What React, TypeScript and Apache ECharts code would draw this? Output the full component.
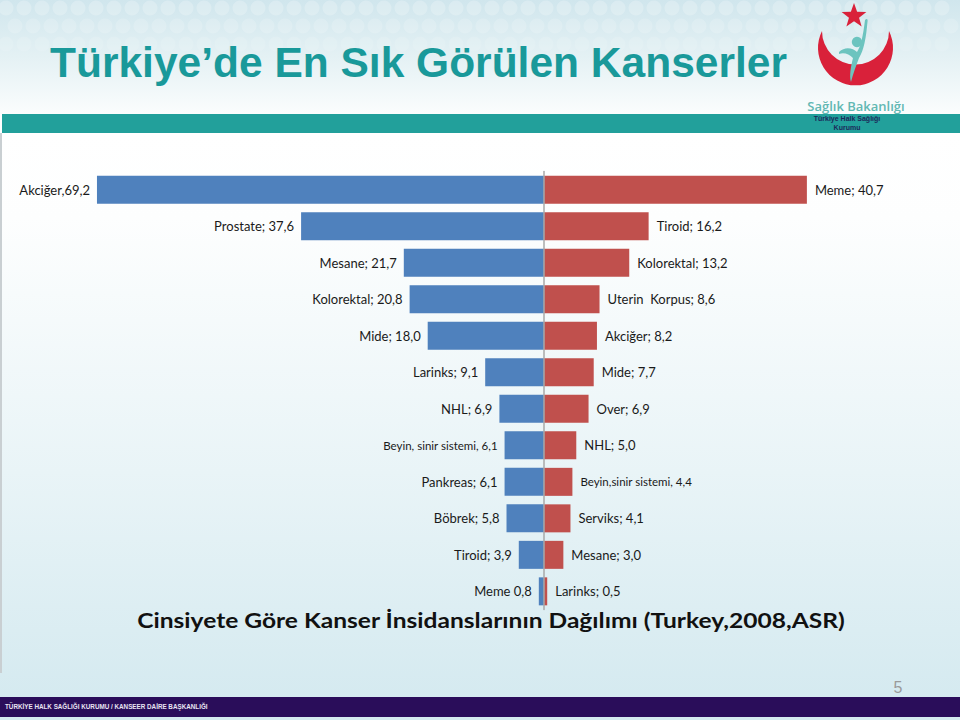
import React, { useEffect, useRef } from "react";
import * as echarts from "echarts";

const ranks = ["1", "2", "3", "4", "5", "6", "7", "8", "9", "10", "11", "12"];
const maleNames = ["Akciğer", "Prostate", "Mesane", "Kolorektal", "Mide", "Larinks", "NHL", "Beyin, sinir sistemi", "Pankreas", "Böbrek", "Tiroid", "Meme"];
const maleSeparators = [",", "; ", "; ", "; ", "; ", "; ", "; ", ", ", "; ", "; ", "; ", " "];
const maleValues = [69.2, 37.6, 21.7, 20.8, 18.0, 9.1, 6.9, 6.1, 6.1, 5.8, 3.9, 0.8];
const femaleNames = ["Meme", "Tiroid", "Kolorektal", "Uterin  Korpus", "Akciğer", "Mide", "Over", "NHL", "Beyin,sinir sistemi", "Serviks", "Mesane", "Larinks"];
const femaleSeparators = ["; ", "; ", "; ", "; ", "; ", "; ", "; ", "; ", ", ", "; ", "; ", "; "];
const femaleValues = [40.7, 16.2, 13.2, 8.6, 8.2, 7.7, 6.9, 5.0, 4.4, 4.1, 3.0, 0.5];

const titleText = "Türkiye’de En Sık Görülen Kanserler";
const captionText = "Cinsiyete Göre Kanser İnsidanslarının Dağılımı (Turkey,2008,ASR)";
const footerText = "TÜRKİYE HALK SAĞLIĞI KURUMU / KANSEER DAİRE BAŞKANLIĞI";
const pageNumber = "5";

const fmt = (v: number) => v.toFixed(1).replace(".", ",");

function starPoints(cx: number, cy: number, ro: number, ri: number) {
  const pts: number[][] = [];
  for (let i = 0; i < 10; i++) {
    const a = -Math.PI / 2 + (i * Math.PI) / 5;
    const r = i % 2 === 0 ? ro : ri;
    pts.push([cx + r * Math.cos(a), cy + r * Math.sin(a)]);
  }
  return pts;
}

let registered = false;
function registerShapes() {
  if (registered) return;
  registered = true;
  echarts.graphic.registerShape(
    "crescent",
    echarts.graphic.extendPath(
      "M -33.5 -17 A 37.5 37.5 0 1 0 33.5 -17 A 33 33 0 1 1 -33.5 -17 Z",
      {}
    ) as any
  );
  echarts.graphic.registerShape(
    "figureBody",
    echarts.graphic.extendPath(
      "M -16 12 C -10 6 -2 8 2 12 C 6 6 8 -4 10 -20 C 12 -22 13 -21 12.5 -18 C 11 -2 9 10 4 18 C 1 26 -2 34 -4 42 C -6 36 -4 26 -2 18 C -6 14 -11 12 -16 14 Z",
      {}
    ) as any
  );
}

const chartFont = "Lato, 'Open Sans', sans-serif";

function headerBubbles() {
  const items: any[] = [];
  const rows = [8, 26, 44];
  rows.forEach((cy, ri) => {
    for (let cx = ri % 2 === 0 ? 6 : 15; cx < 960; cx += 18) {
      items.push({
        type: "circle",
        z: -9,
        silent: true,
        shape: { cx, cy, r: 7.5 },
        style: { fill: "#ffffff", opacity: 0.22 - ri * 0.05 },
      });
    }
  });
  return items;
}

export default function App() {
  const ref = useRef<HTMLDivElement>(null);
  useEffect(() => {
    document.body.style.margin = "0";
    registerShapes();
    if (!ref.current) return;
    const chart = echarts.init(ref.current, undefined, { renderer: "svg" });

    const maleData = maleValues.map((v, i) => ({
      value: -v,
      label: { fontSize: maleNames[i].length > 15 ? 11.5 : 13 },
    }));
    const femaleData = femaleValues.map((v, i) => ({
      value: v,
      label: { fontSize: femaleNames[i].length > 15 ? 11.5 : 13 },
    }));

    const option: any = {
      animation: false,
      backgroundColor: "transparent",
      grid: { left: 91.8, top: 171.6, width: 865.6, height: 438, containLabel: false },
      xAxis: {
        type: "value",
        min: -70,
        max: 64,
        show: false,
        splitLine: { show: false },
      },
      yAxis: {
        type: "category",
        data: ranks,
        inverse: true,
        z: 5,
        axisLine: { show: true, onZero: true, lineStyle: { color: "#a8a8a8", width: 1.5 } },
        axisTick: { show: false },
        axisLabel: { show: false },
        splitLine: { show: false },
      },
      series: [
        {
          type: "bar",
          name: "Erkek",
          data: maleData,
          barWidth: 28,
          barGap: "-100%",
          itemStyle: { color: "#4F81BD" },
          label: {
            show: true,
            position: "left",
            distance: 7,
            color: "#1a1a1a",
            fontFamily: chartFont,
            formatter: (p: any) => maleNames[p.dataIndex] + maleSeparators[p.dataIndex] + fmt(maleValues[p.dataIndex]),
          },
        },
        {
          type: "bar",
          name: "Kadın",
          data: femaleData,
          barWidth: 28,
          barGap: "-100%",
          itemStyle: { color: "#C0504D" },
          label: {
            show: true,
            position: "right",
            distance: 8,
            color: "#1a1a1a",
            fontFamily: chartFont,
            formatter: (p: any) => femaleNames[p.dataIndex] + femaleSeparators[p.dataIndex] + fmt(femaleValues[p.dataIndex]),
          },
        },
      ],
      graphic: [
        {
          type: "rect",
          z: -10,
          silent: true,
          shape: { x: 0, y: 0, width: 960, height: 114 },
          style: {
            fill: new echarts.graphic.LinearGradient(0, 0, 0, 1, [
              { offset: 0, color: "#d0e6ed" },
              { offset: 0.5, color: "#e4f1f4" },
              { offset: 1, color: "#fbfdfd" },
            ]),
          },
        },
        ...headerBubbles(),
        {
          type: "rect",
          z: -10,
          silent: true,
          shape: { x: 0, y: 133, width: 960, height: 564 },
          style: {
            fill: new echarts.graphic.LinearGradient(0, 0, 0, 1, [
              { offset: 0, color: "#ffffff" },
              { offset: 0.15, color: "#fdfefe" },
              { offset: 0.6, color: "#e9f4f7" },
              { offset: 1, color: "#d5eaf0" },
            ]),
          },
        },
        {
          type: "rect",
          z: -9,
          silent: true,
          shape: { x: 0, y: 133, width: 2, height: 540 },
          style: { fill: "#c9cfd2" },
        },
        {
          type: "rect",
          z: -8,
          silent: true,
          shape: { x: 2, y: 114, width: 958, height: 19 },
          style: { fill: "#22a09b" },
        },
        {
          type: "text",
          z: 10,
          x: 50,
          y: 62,
          style: {
            text: titleText,
            fill: "#19999a",
            font: "bold 42.5px 'Liberation Sans', Arial, sans-serif",
            verticalAlign: "middle",
          },
        },
        {
          type: "crescent",
          z: 10,
          x: 855.5,
          y: 48,
          style: { fill: "#d9213a" },
        },
        {
          type: "polygon",
          z: 10,
          shape: { points: starPoints(854, 16, 13, 5.3) },
          style: { fill: "#d9213a" },
        },
        {
          type: "circle",
          z: 10,
          shape: { cx: 857, cy: 42, r: 5.2 },
          style: { fill: "#6cc4bf" },
        },
        {
          type: "figureBody",
          z: 10,
          x: 855,
          y: 40,
          style: { fill: "#6cc4bf" },
        },
        {
          type: "text",
          z: 10,
          x: 856,
          y: 106,
          style: {
            text: "Sağlık Bakanlığı",
            fill: "#62b8b3",
            font: "600 13px 'Open Sans', sans-serif",
            align: "center",
            verticalAlign: "middle",
          },
        },
        {
          type: "text",
          z: 10,
          x: 847,
          y: 118.5,
          style: {
            text: "Türkiye Halk Sağlığı",
            fill: "#1b2a5a",
            font: "bold 7px 'Liberation Sans', Arial, sans-serif",
            align: "center",
            verticalAlign: "middle",
          },
        },
        {
          type: "text",
          z: 10,
          x: 847,
          y: 127,
          style: {
            text: "Kurumu",
            fill: "#1b2a5a",
            font: "bold 7px 'Liberation Sans', Arial, sans-serif",
            align: "center",
            verticalAlign: "middle",
          },
        },
        {
          type: "text",
          z: 10,
          x: 491,
          y: 620,
          scaleX: 1.17,
          style: {
            text: captionText,
            fill: "#111111",
            font: "bold 21px Lato, 'Open Sans', sans-serif",
            align: "center",
            verticalAlign: "middle",
          },
        },
        {
          type: "text",
          z: 10,
          x: 898,
          y: 687,
          style: {
            text: pageNumber,
            fill: "#9a9a9a",
            font: "16px 'Liberation Sans', Arial, sans-serif",
            align: "center",
            verticalAlign: "middle",
          },
        },
        {
          type: "rect",
          z: -5,
          silent: true,
          shape: { x: 0, y: 697, width: 960, height: 20 },
          style: { fill: "#2a0d5a" },
        },
        {
          type: "rect",
          z: -5,
          silent: true,
          shape: { x: 0, y: 717, width: 960, height: 3 },
          style: { fill: "#d5eaf0" },
        },
        {
          type: "text",
          z: 10,
          x: 5,
          y: 706.5,
          style: {
            text: footerText,
            fill: "#e8e4f2",
            font: "bold 6.3px 'Liberation Sans', Arial, sans-serif",
            verticalAlign: "middle",
          },
        },
      ],
    };
    chart.setOption(option);
    return () => chart.dispose();
  }, []);
  return <div ref={ref} style={{ width: 960, height: 720 }} />;
}
